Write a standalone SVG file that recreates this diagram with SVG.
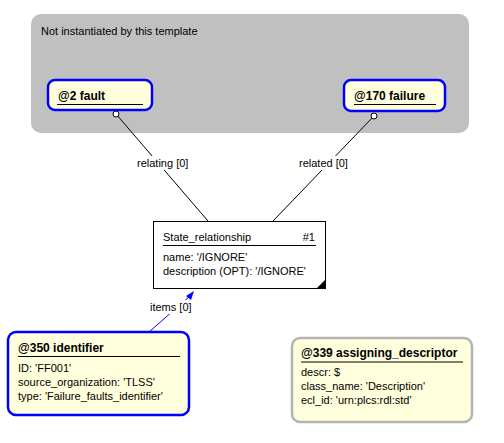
<svg xmlns="http://www.w3.org/2000/svg" width="504" height="443" viewBox="0 0 504 443">
<style>
text{font-family:"Liberation Sans",Arial,sans-serif;font-size:11px;fill:#000}
.b{font-weight:bold;font-size:12px}
.node{fill:#FFFFDD;stroke:#0000FF;stroke-width:2.5}
.gnode{fill:#FFFFDD;stroke:#B4B4B4;stroke-width:2.5}
.ul{stroke:#000;stroke-width:1.2}
.conn{stroke:#000;stroke-width:1;fill:none}
.lbl{fill:#fff}
</style>
<rect id="template" x="31" y="14" width="438" height="119" rx="10" fill="#C0C0C0"/>
<text x="41" y="35">Not instantiated by this template</text>
<g id="connectors">
<line class="conn" x1="116" y1="114" x2="208" y2="221"/>
<line class="conn" x1="374" y1="116" x2="273" y2="221"/>
<line x1="149" y1="332" x2="190" y2="296" stroke="#0000FF" stroke-width="1"/>
<polygon points="194,291 191,300 186,296" fill="#0000FF"/>
<circle cx="116" cy="114" r="3" fill="#fff" stroke="#000"/>
<circle cx="374" cy="116" r="3" fill="#fff" stroke="#000"/>
<rect class="lbl" x="135" y="156" width="53" height="14"/>
<text x="137" y="167">relating [0]</text>
<rect class="lbl" x="297" y="156" width="52" height="14"/>
<text x="299" y="167">related [0]</text>
<rect class="lbl" x="148" y="300" width="42" height="14"/>
<text x="150" y="311">items [0]</text>
</g>
<g id="fault">
<rect class="node" x="48" y="80" width="104" height="30" rx="7"/>
<text class="b" x="58" y="100">@2 fault</text>
<line class="ul" x1="57" y1="104.5" x2="143" y2="104.5"/>
</g>
<g id="failure">
<rect class="node" x="344" y="80" width="101" height="31" rx="7"/>
<text class="b" x="354" y="100">@170 failure</text>
<line class="ul" x1="354" y1="104.5" x2="436" y2="104.5"/>
</g>
<g id="state_relationship">
<rect x="153.5" y="221.5" width="172" height="67" fill="#fff" stroke="#000"/>
<text x="163" y="241">State_relationship</text>
<text x="315" y="241" text-anchor="end">#1</text>
<line class="ul" x1="163" y1="245.5" x2="316" y2="245.5"/>
<text x="163" y="261">name: '/IGNORE'</text>
<text x="163" y="275">description (OPT): '/IGNORE'</text>
<polygon points="316,289 326,289 326,279" fill="#000"/>
</g>
<g id="identifier">
<rect class="node" x="8" y="332" width="181" height="83" rx="8"/>
<text class="b" x="18" y="352">@350 identifier</text>
<line class="ul" x1="18" y1="356.5" x2="180" y2="356.5"/>
<text x="18" y="372">ID: 'FF001'</text>
<text x="18" y="386">source_organization: 'TLSS'</text>
<text x="18" y="400">type: 'Failure_faults_identifier'</text>
</g>
<g id="assigning_descriptor">
<rect class="gnode" x="292" y="338" width="180" height="84" rx="8"/>
<text class="b" x="301" y="357">@339 assigning_descriptor</text>
<line class="ul" x1="301" y1="362" x2="463" y2="362"/>
<text x="301" y="376">descr: $</text>
<text x="301" y="390">class_name: 'Description'</text>
<text x="301" y="404">ecl_id: 'urn:plcs:rdl:std'</text>
</g>
</svg>
